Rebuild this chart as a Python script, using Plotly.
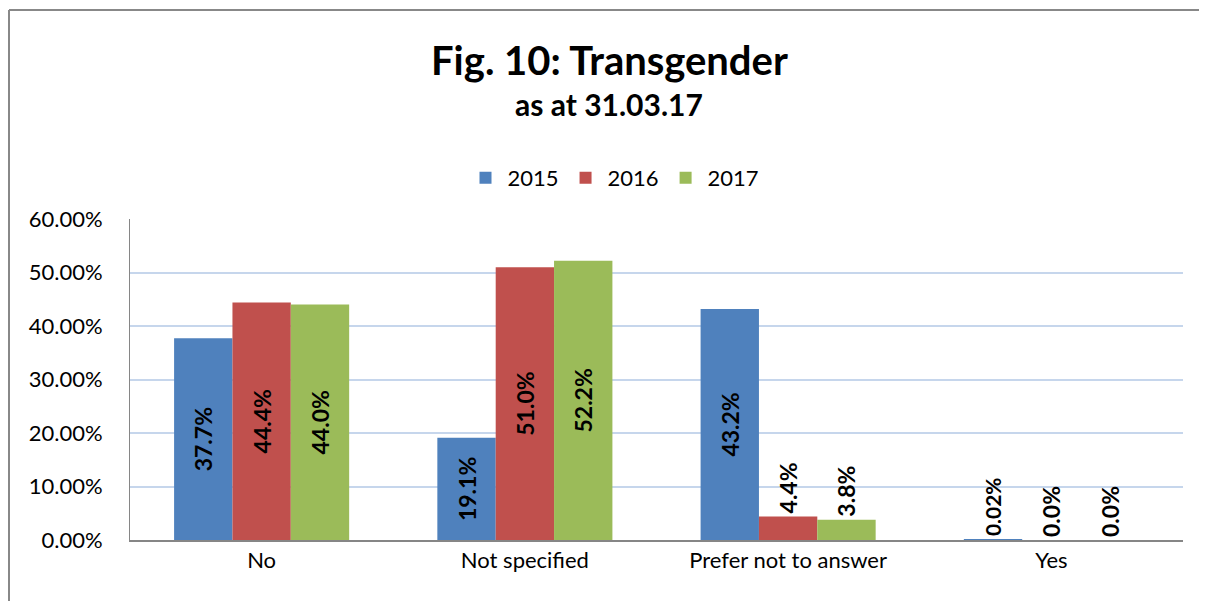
import plotly.graph_objects as go

categories = ["No", "Not specified", "Prefer not to answer", "Yes"]
years = ["2015", "2016", "2017"]
values_2015 = [37.7, 19.1, 43.2, 0.02]
values_2016 = [44.4, 51.0, 4.4, 0.0]
values_2017 = [44.0, 52.2, 3.8, 0.0]
labels_2015 = ["37.7%", "19.1%", "43.2%", "0.02%"]
labels_2016 = ["44.4%", "51.0%", "4.4%", "0.0%"]
labels_2017 = ["44.0%", "52.2%", "3.8%", "0.0%"]
colors = ["#4F81BD", "#C0504D", "#9BBB59"]
y_ticks = [0, 10, 20, 30, 40, 50, 60]
y_ticklabels = ["0.00%", "10.00%", "20.00%", "30.00%", "40.00%", "50.00%", "60.00%"]

FONT = "Lato"
series = [values_2015, values_2016, values_2017]
labels = [labels_2015, labels_2016, labels_2017]

W, H = 1199, 593
L, T, PW, PH = 122, 211, 1053, 321

def py(screen_y):
    return (540 - screen_y) / PH

def px(screen_x):
    return (screen_x - 8 - L) / PW

fig = go.Figure()
for yr, vals, labs, col in zip(years, series, labels, colors):
    pos = ["inside" if v >= 10 else "outside" for v in vals]
    fig.add_trace(go.Bar(
        name=yr, x=categories, y=[v / 100 for v in vals],
        marker=dict(color=col, line=dict(width=0)),
        text=labs, textposition=pos, textangle=-90,
        insidetextanchor="middle",
        textfont=dict(family=FONT, size=23, color="black", weight="bold"),
        cliponaxis=False,
    ))

fig.update_layout(
    barmode="group", bargap=0.335, bargroupgap=0,
    width=W, height=H,
    margin=dict(l=L, r=W - L - PW, t=T, b=H - T - PH),
    paper_bgcolor="white", plot_bgcolor="white",
    font=dict(family=FONT, size=22, color="black"),
    annotations=[
        dict(text="<b>Fig. 10: Transgender</b>", xref="paper", yref="paper",
             x=px(609), y=py(60), xanchor="center", yanchor="middle", showarrow=False,
             font=dict(family=FONT, size=40, color="black")),
        dict(text="<b>as at 31.03.17</b>", xref="paper", yref="paper",
             x=px(609), y=py(104), xanchor="center", yanchor="middle", showarrow=False,
             font=dict(family=FONT, size=30, color="black")),
    ],
    legend=dict(
        orientation="h", x=px(614), xanchor="center", y=py(178), yanchor="middle",
        font=dict(family=FONT, size=22, color="black"),
        itemwidth=34, traceorder="normal",
    ),
    xaxis=dict(
        showline=True, linecolor="#868686", linewidth=2,
        ticks="", tickfont=dict(family=FONT, size=22),
        showgrid=False,
    ),
    yaxis=dict(
        range=[0, 0.6], tickvals=[t / 100 for t in y_ticks], ticktext=y_ticklabels,
        showgrid=True, gridcolor="#C6D6EC", gridwidth=2,
        showline=True, linecolor="#868686", linewidth=1,
        ticks="", tickfont=dict(family=FONT, size=22),
        ticklabelstandoff=22,
        zeroline=False,
    ),
    shapes=[
        dict(type="line", xref="paper", yref="paper",
             x0=px(9), x1=px(1300), y0=py(10), y1=py(10),
             line=dict(color="#888888", width=2), layer="below"),
        dict(type="line", xref="paper", yref="paper",
             x0=px(9), x1=px(9), y0=py(10), y1=py(700),
             line=dict(color="#888888", width=2), layer="below"),
    ],
)

fig.write_html("out.html")
